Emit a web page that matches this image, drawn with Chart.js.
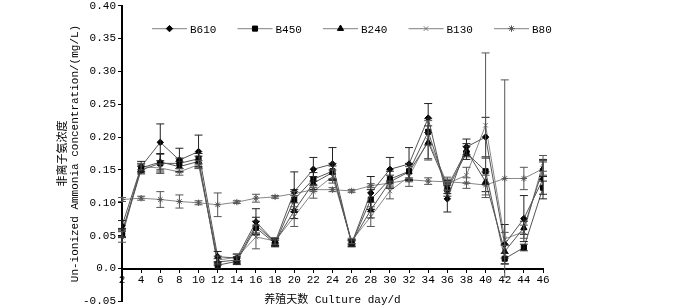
<!DOCTYPE html>
<html>
<head>
<meta charset="utf-8">
<script src="https://cdn.jsdelivr.net/npm/chart.js@4"></script>
<style>
  html, body { margin: 0; padding: 0; background: #fff; overflow: hidden; }
  #wrap { width: 700px; height: 313px; margin-top: -3px; }
</style>
</head>
<body>
<div id="wrap"><canvas id="chart"></canvas></div>
<script>
// ================= DATA =================
const days = [2, 4, 6, 8, 10, 12, 14, 16, 18, 20, 22, 24, 26, 28, 30, 32, 34, 36, 38, 40, 42, 44, 46];

const seriesNames = ['B610', 'B450', 'B240', 'B130', 'B80'];

const b610 = [0.065, 0.155, 0.192, 0.165, 0.178, 0.018, 0.016, 0.071, 0.040, 0.117, 0.151, 0.159, 0.038, 0.115, 0.151, 0.159, 0.229, 0.106, 0.185, 0.200, 0.037, 0.076, 0.136];
const b450 = [0.053, 0.150, 0.160, 0.160, 0.167, 0.005, 0.011, 0.062, 0.038, 0.105, 0.136, 0.148, 0.038, 0.105, 0.136, 0.148, 0.208, 0.120, 0.176, 0.148, 0.015, 0.032, 0.123];
const b240 = [0.055, 0.153, 0.162, 0.155, 0.163, 0.010, 0.013, 0.066, 0.040, 0.088, 0.130, 0.146, 0.040, 0.089, 0.132, 0.147, 0.192, 0.124, 0.180, 0.132, 0.026, 0.062, 0.152];
const b130 = [0.048, 0.155, 0.153, 0.147, 0.158, 0.013, 0.017, 0.048, 0.042, 0.079, 0.117, 0.140, 0.042, 0.079, 0.118, 0.140, 0.195, 0.129, 0.142, 0.218, 0.045, 0.056, 0.160];
const b80  = [0.105, 0.107, 0.105, 0.102, 0.100, 0.097, 0.101, 0.107, 0.109, 0.114, 0.120, 0.120, 0.118, 0.126, 0.130, 0.135, 0.133, 0.132, 0.130, 0.127, 0.137, 0.137, 0.152];

// error bar half-widths (standard deviation)
const b610Err = [0.008, 0.008, 0.028, 0.018, 0.025, 0.008, 0.006, 0.020, 0.006, 0.030, 0.018, 0.025, 0.005, 0.025, 0.018, 0.025, 0.022, 0.020, 0.012, 0.030, 0.030, 0.035, 0.030];
const b450Err = [0.006, 0.006, 0.015, 0.008, 0.008, 0.005, 0.005, 0.010, 0.005, 0.015, 0.010, 0.012, 0.004, 0.015, 0.012, 0.012, 0.020, 0.010, 0.010, 0.020, 0.008, 0.005, 0.010];
const b240Err = [0.006, 0.006, 0.012, 0.008, 0.008, 0.005, 0.005, 0.012, 0.005, 0.012, 0.010, 0.010, 0.004, 0.012, 0.010, 0.012, 0.025, 0.010, 0.010, 0.015, 0.010, 0.010, 0.012];
const b130Err = [0.008, 0.005, 0.006, 0.005, 0.006, 0.006, 0.005, 0.018, 0.005, 0.015, 0.010, 0.010, 0.004, 0.015, 0.012, 0.015, 0.030, 0.010, 0.012, 0.110, 0.010, 0.010, 0.012];
const b80Err  = [0.003, 0.003, 0.012, 0.010, 0.003, 0.018, 0.002, 0.006, 0.002, 0.003, 0.003, 0.003, 0.002, 0.003, 0.003, 0.003, 0.005, 0.004, 0.008, 0.015, 0.150, 0.017, 0.010];

const yTicks = [-0.05, 0, 0.05, 0.10, 0.15, 0.20, 0.25, 0.30, 0.35, 0.40];

// ================= STYLE =================
const NUM_FONT = "'Liberation Mono', 'Noto Sans CJK SC', monospace";
const TXT_FONT = "'Liberation Mono', 'Noto Sans CJK SC', monospace";

const styles = [
    { pointStyle: 'rectRot',  radius: 3.2, line: '#555', mark: '#000' },
    { pointStyle: 'rect',     radius: 3.6, line: '#555', mark: '#000' },
    { pointStyle: 'triangle', radius: 3.6, line: '#555', mark: '#000' },
    { pointStyle: 'crossRot', radius: 3.2, line: '#888', mark: '#777' },
    { pointStyle: 'star',     radius: 3.2, line: '#888', mark: '#555' }
];

const values = [b610, b450, b240, b130, b80];
const errors = [b610Err, b450Err, b240Err, b130Err, b80Err];

function makeDataset(i) {
    const st = styles[i];
    return {
        label: seriesNames[i],
        data: days.map((d, k) => ({ x: d, y: values[i][k] })),
        errors: errors[i],
        borderColor: st.line,
        borderWidth: 1,
        pointStyle: st.pointStyle,
        pointRadius: st.radius,
        pointBackgroundColor: st.mark,
        pointBorderColor: st.mark,
        pointBorderWidth: 1,
        tension: 0,
        fill: false
    };
}

// error bars drawn through the scales
const errorBarPlugin = {
    id: 'errorBars',
    afterDatasetsDraw(chart) {
        const ctx = chart.ctx;
        const xs = chart.scales.x, ys = chart.scales.y;
        ctx.save();
        chart.data.datasets.forEach((ds, i) => {
            ctx.strokeStyle = i < 3 ? '#222' : '#555';
            ctx.lineWidth = 1;
            ds.data.forEach((p, k) => {
                const e = ds.errors[k];
                const px = xs.getPixelForValue(p.x);
                const top = ys.getPixelForValue(p.y + e);
                const bot = ys.getPixelForValue(p.y - e);
                ctx.beginPath();
                ctx.moveTo(px, top); ctx.lineTo(px, bot);
                ctx.moveTo(px - 4, top); ctx.lineTo(px + 4, top);
                ctx.moveTo(px - 4, bot); ctx.lineTo(px + 4, bot);
                ctx.stroke();
            });
        });
        ctx.restore();
    }
};

// legend: line with marker in the middle, one row at the top of the plot
const lineLegendPlugin = {
    id: 'lineLegend',
    afterDraw(chart) {
        const ctx = chart.ctx;
        const area = chart.chartArea;
        const y = area.top + 23;
        ctx.save();
        ctx.font = '11px ' + TXT_FONT;
        ctx.textBaseline = 'middle';
        chart.data.datasets.forEach((ds, i) => {
            const x0 = area.left + 30 + i * 85.5;
            ctx.strokeStyle = '#999';
            ctx.lineWidth = 1.2;
            ctx.beginPath();
            ctx.moveTo(x0, y); ctx.lineTo(x0 + 35, y);
            ctx.stroke();
            ctx.fillStyle = ds.pointBackgroundColor;
            ctx.strokeStyle = ds.pointBorderColor;
            ctx.lineWidth = 1;
            Chart.helpers.drawPoint(ctx, {
                pointStyle: ds.pointStyle, radius: ds.pointRadius, rotation: 0, borderWidth: 1
            }, x0 + 17.5, y);
            ctx.fillStyle = '#000';
            ctx.fillText(ds.label, x0 + 38, y + 1);
        });
        ctx.restore();
    }
};

// ================= CHART =================
function init() {
    const ctx = document.getElementById('chart').getContext('2d');
    new Chart(ctx, {
        type: 'line',
        data: { datasets: seriesNames.map((_, i) => makeDataset(i)) },
        options: {
            responsive: true,
            maintainAspectRatio: false,
            animation: false,
            layout: { padding: { top: 0, right: 157, bottom: 0, left: 55 } },
            plugins: {
                legend: { display: false },
                tooltip: { enabled: false }
            },
            scales: {
                x: {
                    type: 'linear',
                    position: { y: 0 },
                    min: 2,
                    max: 46,
                    grid: { drawOnChartArea: false, color: '#000', tickLength: 3 },
                    border: { color: '#000', width: 2 },
                    ticks: {
                        stepSize: 2,
                        color: '#000',
                        padding: 2,
                        maxRotation: 0,
                        font: { family: NUM_FONT, size: 11 }
                    },
                    title: {
                        display: true,
                        text: '养殖天数 Culture day/d',
                        color: '#000',
                        padding: { top: 5, bottom: 0 },
                        font: { family: TXT_FONT, size: 11 }
                    }
                },
                y: {
                    min: -0.05,
                    max: 0.40,
                    afterFit(scale) { scale.width = 67; },
                    afterBuildTicks(scale) { scale.ticks = yTicks.map(v => ({ value: v })); },
                    grid: { drawOnChartArea: false, color: '#000', tickLength: 4 },
                    border: { color: '#000', width: 2 },
                    ticks: {
                        color: '#000',
                        padding: 2,
                        font: { family: NUM_FONT, size: 11 },
                        callback: v => (Math.abs(v) < 1e-9 ? '0.0' : v.toFixed(2))
                    },
                    title: {
                        display: true,
                        text: ['非离子氨浓度', 'Un-ionized Ammonia concentration/(mg/L)'],
                        color: '#000',
                        padding: { top: 2, bottom: 0 },
                        font: { family: TXT_FONT, size: 11, lineHeight: 1.1 }
                    }
                }
            }
        },
        plugins: [errorBarPlugin, lineLegendPlugin]
    });
}

window.addEventListener('DOMContentLoaded', init);
</script>
</body>
</html>
